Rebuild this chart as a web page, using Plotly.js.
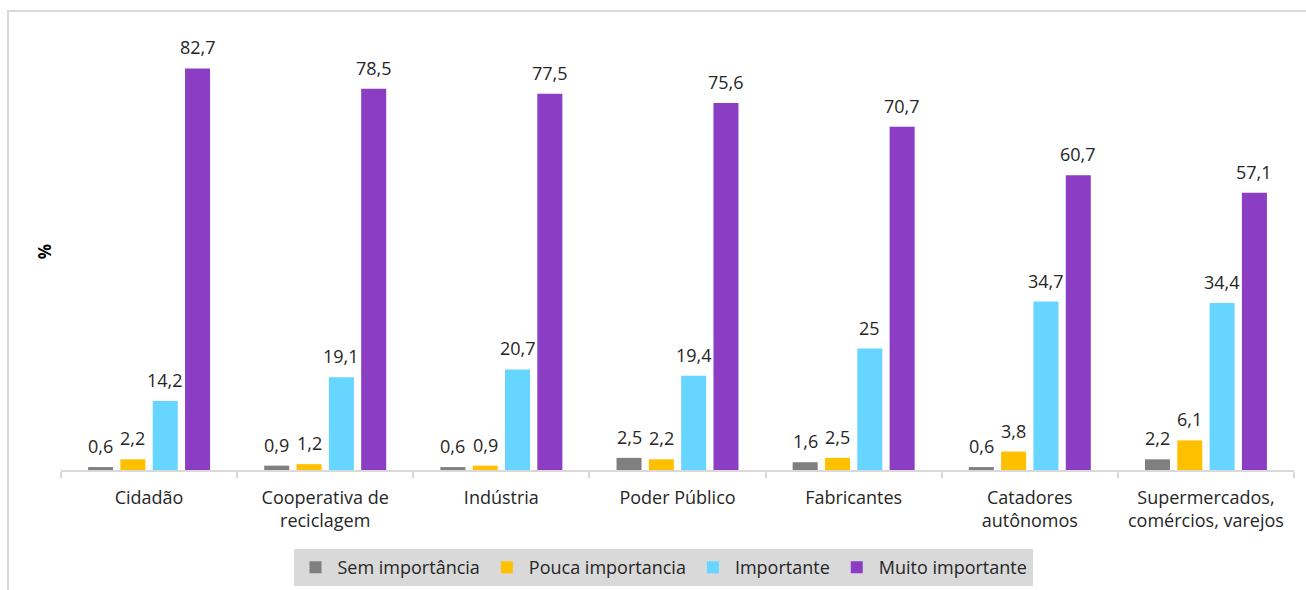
<!DOCTYPE html>
<html>
<head>
<meta charset="utf-8">
<script src="https://cdn.plot.ly/plotly-3.0.1.min.js"></script>
<style>
  html, body { margin: 0; padding: 0; background: #fff; }
  #wrap { position: relative; width: 1306px; height: 590px; overflow: hidden; }
  #chart { width: 1306px; height: 590px; }
  #frame { position: absolute; left: 7px; top: 10px; width: 1400px; height: 700px;
           border-top: 2px solid #d9d9d9; border-left: 2px solid #d9d9d9; pointer-events: none; }
</style>
</head>
<body>
<div id="wrap">
  <div id="chart"></div>
  <div id="frame"></div>
</div>
<script>
const categories = [
  "Cidadão",
  "Cooperativa de<br>reciclagem",
  "Indústria",
  "Poder Público",
  "Fabricantes",
  "Catadores<br>autônomos",
  "Supermercados,<br>comércios, varejos"
];
const seriesNames = ["Sem importância", "Pouca importancia", "Importante", "Muito importante"];
const semImportancia = [0.6, 0.9, 0.6, 2.5, 1.6, 0.6, 2.2];
const poucaImportancia = [2.2, 1.2, 0.9, 2.2, 2.5, 3.8, 6.1];
const importante = [14.2, 19.1, 20.7, 19.4, 25, 34.7, 34.4];
const muitoImportante = [82.7, 78.5, 77.5, 75.6, 70.7, 60.7, 57.1];
const seriesColors = ["#7f7f7f", "#ffc000", "#66d5ff", "#8b3dc3"];

const FONT = "Open Sans, Noto Sans, sans-serif";
const TXT = "#262626";
const fmt = v => String(v).replace(".", ",");

const W = 1306, H = 590;
const M = { l: 61, r: 12, t: 33, b: 120 };
const BARGAP = 0.266, BARGROUPGAP = 0.226;

const allSeries = [semImportancia, poucaImportancia, importante, muitoImportante];
const traces = allSeries.map((vals, i) => ({
  type: "bar",
  name: seriesNames[i],
  x: categories,
  y: vals,
  marker: { color: seriesColors[i] },
  hoverinfo: "skip"
}));

// value labels as annotations placed over each grouped bar
const catPx = (W - M.l - M.r) / categories.length;
const slotPx = catPx * (1 - BARGAP) / allSeries.length;
const annotations = [];
allSeries.forEach((vals, i) => {
  vals.forEach((v, j) => {
    annotations.push({
      x: categories[j], y: v, xref: "x", yref: "y",
      text: fmt(v), showarrow: false,
      xanchor: "center", yanchor: "bottom",
      xshift: (i - (allSeries.length - 1) / 2) * slotPx,
      yshift: 7,
      font: { family: FONT, size: 18, color: TXT }
    });
  });
});

const layout = {
  width: W,
  height: H,
  margin: M,
  paper_bgcolor: "#ffffff",
  plot_bgcolor: "#ffffff",
  barmode: "group",
  bargap: BARGAP,
  bargroupgap: BARGROUPGAP,
  showlegend: true,
  annotations: annotations,
  legend: {
    orientation: "h",
    xref: "container",
    yref: "container",
    x: 663 / W,
    xanchor: "center",
    y: 1 - 549 / H,
    yanchor: "top",
    bgcolor: "#d9d9d9",
    itemwidth: 34,
    font: { family: FONT, size: 18, color: TXT },
    traceorder: "normal"
  },
  xaxis: {
    type: "category",
    automargin: false,
    showline: true,
    linecolor: "#d9d9d9",
    linewidth: 2,
    ticks: "outside",
    tickson: "boundaries",
    ticklen: 6,
    tickcolor: "#d9d9d9",
    tickwidth: 2,
    ticklabelstandoff: 10,
    tickfont: { family: FONT, size: 18, color: TXT },
    showgrid: false,
    zeroline: false
  },
  yaxis: {
    range: [0, 90],
    automargin: false,
    showticklabels: false,
    showgrid: false,
    zeroline: false,
    showline: false,
    ticks: "",
    title: { text: "<b>%</b>", font: { family: FONT, size: 17, color: "#000000" }, standoff: 4 }
  },
  font: { family: FONT }
};

Plotly.newPlot("chart", traces, layout, { displayModeBar: false, staticPlot: true });
</script>
</body>
</html>
